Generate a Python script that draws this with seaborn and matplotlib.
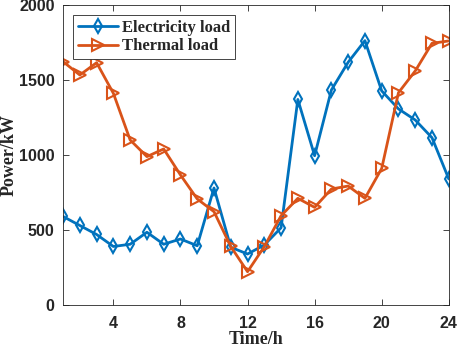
import pandas as pd
import matplotlib
matplotlib.use('Agg')
import matplotlib.pyplot as plt
import seaborn as sns

# data
hours = list(range(1, 25))
electricity = [590, 530, 470, 390, 405, 485, 405, 440, 395, 780, 385, 340,
               400, 515, 1370, 995, 1433, 1618, 1762, 1427, 1307, 1233, 1115, 840]
thermal = [1622, 1533, 1615, 1411, 1100, 989, 1040, 867, 707, 622, 390, 222,
           389, 595, 711, 651, 773, 793, 711, 910, 1415, 1560, 1744, 1760]

sns.set_style('ticks')

df = pd.DataFrame({'hour': hours, 'Electricity load': electricity, 'Thermal load': thermal})

fig = plt.figure(figsize=(4.57, 3.51), dpi=100)
ax = fig.add_axes([0.138, 0.131, 0.844, 0.855])

sns.lineplot(data=df, x='hour', y='Electricity load', ax=ax, color='#0072BD',
             linewidth=2, marker='d', markersize=7, markerfacecolor='none',
             markeredgecolor='#0072BD', markeredgewidth=1.5, label='Electricity load')
sns.lineplot(data=df, x='hour', y='Thermal load', ax=ax, color='#D95319',
             linewidth=2, marker='>', markersize=8, markerfacecolor='none',
             markeredgecolor='#D95319', markeredgewidth=1.5, label='Thermal load')

ax.set_xlim(1, 24)
ax.set_ylim(0, 2000)
ax.set_xticks([4, 8, 12, 16, 20, 24])
ax.set_yticks([0, 500, 1000, 1500, 2000])
for lab in ax.get_xticklabels() + ax.get_yticklabels():
    lab.set_fontfamily('Liberation Sans')
    lab.set_fontweight('bold')
    lab.set_fontsize(11.5)
ax.tick_params(axis='x', pad=8)
ax.tick_params(axis='y', pad=6)
ax.tick_params(direction='in', top=True, right=True, length=4, width=0.6,
               colors='#262626')
for s in ax.spines.values():
    s.set_linewidth(0.6)
    s.set_color('#262626')

ax.set_xlabel('Time/h', fontfamily='Liberation Serif', fontweight='bold', fontsize=13, labelpad=0)
ax.set_ylabel('Power/kW', fontfamily='Liberation Serif', fontweight='bold', fontsize=13, labelpad=1)

leg = ax.legend(loc='upper left', prop={'family': 'Liberation Serif', 'weight': 'bold', 'size': 12},
                fancybox=False, edgecolor='#262626', framealpha=1, borderaxespad=0.6,
                handlelength=2.4, handletextpad=0.25, labelspacing=0.15, borderpad=0.3)
leg.get_frame().set_linewidth(0.6)

fig.savefig('out.png', dpi=100)
